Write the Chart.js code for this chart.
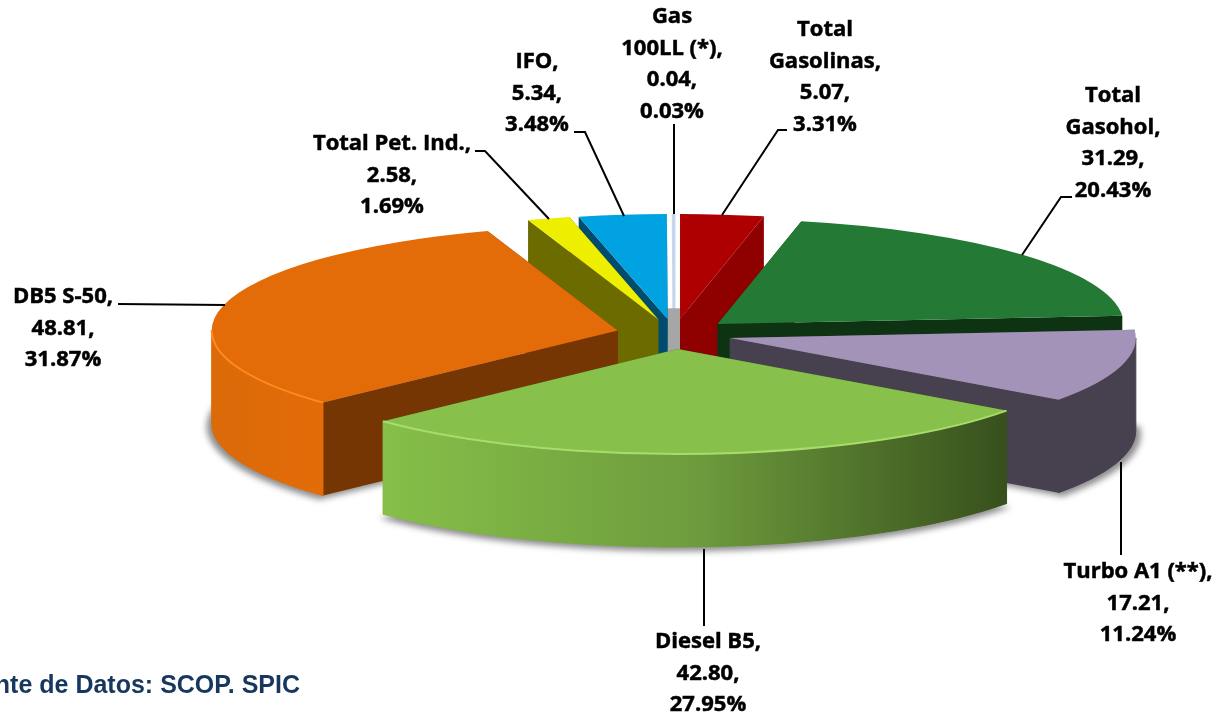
<!DOCTYPE html>
<html>
<head>
<meta charset="utf-8">
<style>
  body { margin: 0; background: #fff; }
  #wrap { width: 1218px; height: 718px; }
</style>
<script src="https://cdn.jsdelivr.net/npm/chart.js@4"></script>
</head>
<body>
<div id="wrap"><canvas id="pie" width="1218" height="718"></canvas></div>
<script>
const categories = ['Total Gasolinas', 'Total Gasohol', 'Turbo A1 (**)', 'Diesel B5', 'DB5 S-50', 'Total Pet. Ind.', 'IFO', 'Gas 100LL (*)'];
const values = [5.07, 31.29, 17.21, 42.80, 48.81, 2.58, 5.34, 0.04];
const percents = ['3.31%', '20.43%', '11.24%', '27.95%', '31.87%', '1.69%', '3.48%', '0.03%'];

const topColors = ['#AE0000', '#247A35', '#A393B8', '#87C04A', '#E36C09', '#EEEE00', '#00A2E2', '#FFFFFF'];
const wallColors = ['#8F0000', '#0D3313', '#47404F', '#3A551D', '#763603', '#6B6B00', '#004C6E', '#FFFFFF'];
const outerStops = [
  null, null, ['#47404F', '#47404F'],
  ['#86BF49', '#6E9C3D', '#37501C'],
  ['#DB6A08', '#E36C09'], null, null, null
];
const rimColors = [null, null, null, '#A8DC6C', '#FF8A1F', null, null, null];

// how the flat pie is laid over on its side
const tilt = 0.2586;
const depth = 93;
const explode = 58;
const pieRadius = 406;

// label text blocks: centre x, first line y, and the leader line
const labelLayout = [
  { x: 825, y: 30, lines: ['Total', 'Gasolinas,'], leader: [[722, 215], [778, 130], [787, 130]] },
  { x: 1113, y: 96, lines: ['Total', 'Gasohol,'], leader: [[1022, 255], [1061, 197], [1072, 197]] },
  { x: 1138, y: 572, lines: ['Turbo A1 (**),'], leader: [[1121, 462], [1121, 555]] },
  { x: 708, y: 642, lines: ['Diesel B5,'], leader: [[704, 549], [704, 626]] },
  { x: 63, y: 297, lines: ['DB5 S-50,'], leader: [[225, 305], [118, 304]] },
  { x: 392, y: 144, lines: ['Total Pet. Ind.,'], leader: [[549, 219], [485, 151], [475, 151]] },
  { x: 537, y: 62, lines: ['IFO,'], leader: [[624, 216], [585, 132], [574, 132]] },
  { x: 672, y: 17, lines: ['Gas', '100LL (*),'], leader: [[674, 214], [674, 124]] }
];
const lineGap = 31.5;

function sliceBody(ctx, arc, i) {
  const half = (arc.startAngle + arc.endAngle) / 2;
  const cx = arc.x + Math.cos(half) * explode;
  const cy = arc.y + Math.sin(half) * explode * tilt;
  const R = arc.outerRadius;
  const rx = a => cx + R * Math.cos(a);
  const ry = a => cy + R * tilt * Math.sin(a);

  // soft shadow under the slices that reach the front
  const a0 = Math.max(arc.startAngle, 0);
  const a1 = Math.min(arc.endAngle, Math.PI);
  const front = a1 > a0;
  if (front) {
    ctx.save();
    ctx.filter = 'blur(3px)';
    ctx.fillStyle = '#8c8c8c';
    ctx.beginPath();
    ctx.moveTo(cx, cy + depth + 3);
    ctx.ellipse(cx, cy + depth + 3, R + 5, (R + 5) * tilt, 0, arc.startAngle, arc.endAngle);
    ctx.closePath();
    ctx.fill();
    ctx.restore();
  }

  // the two flat cut faces
  ctx.fillStyle = wallColors[i];
  for (const a of [arc.startAngle, arc.endAngle]) {
    ctx.beginPath();
    ctx.moveTo(cx, cy);
    ctx.lineTo(rx(a), ry(a));
    ctx.lineTo(rx(a), ry(a) + depth);
    ctx.lineTo(cx, cy + depth);
    ctx.closePath();
    ctx.fill();
  }

  // curved outer face
  if (front && outerStops[i]) {
    const g = ctx.createLinearGradient(Math.min(rx(a0), rx(a1)), 0, Math.max(rx(a0), rx(a1)), 0);
    outerStops[i].forEach((c, n) => g.addColorStop(n / (outerStops[i].length - 1), c));
    ctx.fillStyle = g;
    ctx.strokeStyle = g;
    ctx.lineWidth = 1;
    ctx.beginPath();
    ctx.ellipse(cx, cy, R, R * tilt, 0, a0, a1);
    ctx.ellipse(cx, cy + depth, R, R * tilt, 0, a1, a0, true);
    ctx.closePath();
    ctx.fill();
    ctx.stroke();
  }

  // top face is the library's own arc, squashed
  ctx.save();
  ctx.translate(cx, cy);
  ctx.scale(1, tilt);
  ctx.translate(-arc.x, -arc.y);
  arc.draw(ctx);
  ctx.restore();

  if (front && rimColors[i]) {
    ctx.strokeStyle = rimColors[i];
    ctx.lineWidth = 2;
    ctx.beginPath();
    ctx.ellipse(cx, cy, R, R * tilt, 0, a0, a1);
    ctx.stroke();
  }
}

const pie3d = {
  id: 'pie3d',
  beforeDatasetDraw(chart, args) {
    const ctx = chart.ctx;
    const arcs = args.meta.data;
    const order = arcs.map((a, i) => i).sort((p, q) => {
      const hp = (arcs[p].startAngle + arcs[p].endAngle) / 2;
      const hq = (arcs[q].startAngle + arcs[q].endAngle) / 2;
      return Math.sin(hp) - Math.sin(hq);
    });
    order.forEach((i, n) => {
      sliceBody(ctx, arcs[i], i);
      if (n === 0) {
        // grey core seen through the gap behind the thin slice
        const c = arcs[i];
        ctx.fillStyle = '#A6A6A6';
        ctx.beginPath();
        ctx.ellipse(c.x, c.y, 100, 100 * tilt, 0, Math.PI, 0);
        ctx.ellipse(c.x, c.y + depth, 100, 100 * tilt, 0, 0, Math.PI);
        ctx.closePath();
        ctx.fill();
      }
    });
    return false;
  },
  afterDraw(chart) {
    const ctx = chart.ctx;
    ctx.save();
    ctx.strokeStyle = '#000';
    ctx.fillStyle = '#000';
    ctx.font = 'bold 22px "Open Sans"';
    ctx.textAlign = 'center';
    ctx.textBaseline = 'middle';
    labelLayout.forEach((l, i) => {
      ctx.lineWidth = 2;
      ctx.beginPath();
      l.leader.forEach((p, n) => n ? ctx.lineTo(p[0], p[1]) : ctx.moveTo(p[0], p[1]));
      ctx.stroke();
      ctx.lineWidth = 0.5;
      const text = l.lines.concat([values[i].toFixed(2) + ',', percents[i]]);
      text.forEach((t, n) => {
        ctx.fillText(t, l.x, l.y + n * lineGap);
        ctx.strokeText(t, l.x, l.y + n * lineGap);
      });
    });
    ctx.fillStyle = '#17375E';
    ctx.font = 'bold 25px "Liberation Sans"';
    ctx.textAlign = 'right';
    ctx.fillText('Fuente de Datos: SCOP. SPIC', 300, 686);
    ctx.restore();
  }
};

new Chart(document.getElementById('pie'), {
  type: 'pie',
  data: {
    labels: categories,
    datasets: [{
      data: values,
      radius: pieRadius,
      backgroundColor: topColors,
      borderWidth: [0, 0, 0, 0, 0, 0, 0, 3],
      borderColor: '#C5D5EA'
    }]
  },
  plugins: [pie3d],
  options: {
    responsive: false,
    animation: false,
    layout: { padding: { left: 130, bottom: 50 } },
    plugins: {
      legend: { display: false },
      tooltip: { enabled: false }
    }
  }
});
</script>
</body>
</html>
